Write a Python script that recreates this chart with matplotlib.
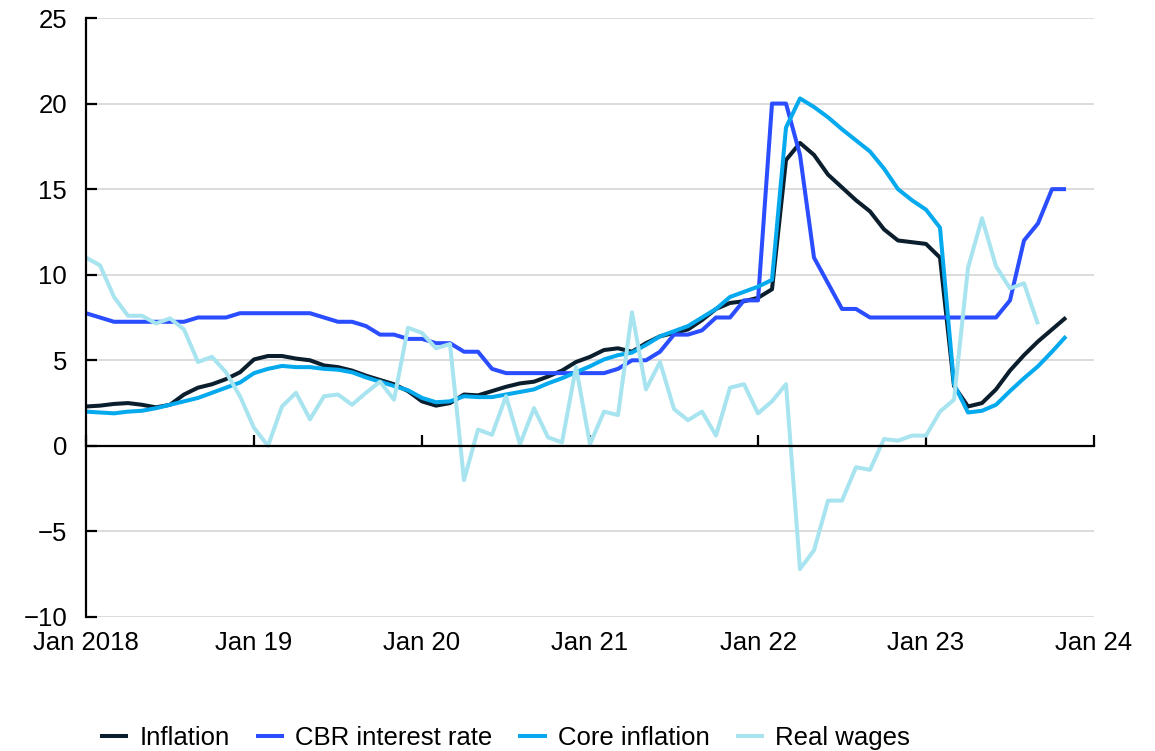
import matplotlib
matplotlib.use("Agg")
import matplotlib.pyplot as plt
import numpy as np

plt.rcParams['font.family'] = ['Liberation Sans', 'DejaVu Sans']

# Monthly data, Jan 2018 onwards (month index 0 = Jan 2018)
inflation = [2.3, 2.35, 2.45, 2.5, 2.4, 2.25, 2.4, 3.0, 3.4, 3.6, 3.9, 4.3,
             5.05, 5.25, 5.25, 5.1, 5.0, 4.7, 4.6, 4.4, 4.1, 3.85, 3.6, 3.2,
             2.6, 2.35, 2.5, 3.0, 2.95, 3.2, 3.45, 3.65, 3.75, 4.05, 4.4, 4.9,
             5.2, 5.6, 5.7, 5.5, 6.0, 6.4, 6.6, 6.8, 7.35, 8.0, 8.35, 8.45,
             8.65, 9.15, 16.7, 17.7, 17.0, 15.85, 15.1, 14.35, 13.7, 12.65,
             12.0, 11.9, 11.8, 11.0, 3.5, 2.3, 2.5, 3.3, 4.4, 5.3, 6.1, 6.8, 7.5]

cbr_rate = [7.75, 7.5, 7.25, 7.25, 7.25, 7.25, 7.25, 7.25, 7.5, 7.5, 7.5, 7.75,
            7.75, 7.75, 7.75, 7.75, 7.75, 7.5, 7.25, 7.25, 7.0, 6.5, 6.5, 6.25,
            6.25, 6.0, 6.0, 5.5, 5.5, 4.5, 4.25, 4.25, 4.25, 4.25, 4.25, 4.25,
            4.25, 4.25, 4.5, 5.0, 5.0, 5.5, 6.5, 6.5, 6.75, 7.5, 7.5, 8.5,
            8.5, 20.0, 20.0, 17.0, 11.0, 9.5, 8.0, 8.0, 7.5, 7.5,
            7.5, 7.5, 7.5, 7.5, 7.5, 7.5, 7.5, 7.5, 8.5, 12.0, 13.0, 15.0, 15.0]

core_inflation = [2.0, 1.95, 1.9, 2.0, 2.05, 2.2, 2.4, 2.6, 2.8, 3.1, 3.4, 3.7,
                  4.25, 4.5, 4.67, 4.6, 4.6, 4.5, 4.45, 4.3, 4.0, 3.75, 3.5, 3.25,
                  2.8, 2.55, 2.6, 2.9, 2.85, 2.85, 3.0, 3.15, 3.3, 3.65, 3.95, 4.3,
                  4.65, 5.05, 5.3, 5.45, 5.9, 6.4, 6.7, 7.0, 7.5, 8.0, 8.7, 9.0,
                  9.3, 9.7, 18.6, 20.3, 19.8, 19.2, 18.5, 17.85, 17.2, 16.2,
                  15.0, 14.35, 13.8, 12.75, 3.6, 1.95, 2.05, 2.4, 3.2, 3.95, 4.65, 5.5, 6.4]

real_wages = [11.0, 10.55, 8.7, 7.6, 7.6, 7.15, 7.45, 6.8, 4.9, 5.2, 4.3, 2.9,
              1.05, 0.0, 2.3, 3.1, 1.55, 2.9, 3.0, 2.4, 3.1, 3.75, 2.7, 6.9,
              6.6, 5.7, 5.95, -2.0, 0.95, 0.65, 2.9, 0.1, 2.2, 0.5, 0.2, 4.6,
              0.1, 2.0, 1.8, 7.8, 3.3, 4.9, 2.15, 1.5, 2.0, 0.6, 3.4, 3.6,
              1.9, 2.6, 3.6, -7.2, -6.1, -3.2, -3.2, -1.25, -1.4, 0.4,
              0.3, 0.6, 0.6, 2.0, 2.7, 10.4, 13.3, 10.5, 9.2, 9.5, 7.1]

tick_months = [0, 12, 24, 36, 48, 60, 72]
tick_labels = ['Jan 2018', 'Jan 19', 'Jan 20', 'Jan 21', 'Jan 22', 'Jan 23', 'Jan 24']

series = [
    ('Inflation', inflation, '#0b1e2d'),
    ('CBR interest rate', cbr_rate, '#2a4dff'),
    ('Core inflation', core_inflation, '#05a9ee'),
    ('Real wages', real_wages, '#a7e4ef'),
]

FS = 18.5

fig = plt.figure(figsize=(11.55, 7.51), dpi=100)
ax = fig.add_axes([86 / 1155, 1 - 617 / 751, (1094 - 86) / 1155, (617 - 18) / 751])

for label, values, color in series:
    ax.plot(np.arange(len(values)), values, color=color, lw=2.9, label=label,
            solid_joinstyle='round', solid_capstyle='butt')

ax.set_xlim(0, 72)
ax.set_ylim(-10, 25)
ax.set_yticks(range(-10, 30, 5))
ax.set_yticklabels(['\u221210', '\u22125', '0', '5', '10', '15', '20', '25'])
ax.grid(axis='y', color='#d9d9d9', lw=1.3)
ax.set_axisbelow(True)

for s in ['top', 'right']:
    ax.spines[s].set_visible(False)
ax.spines['left'].set_linewidth(1.6)
ax.spines['bottom'].set_position(('data', 0))
ax.spines['bottom'].set_linewidth(1.6)
ax.spines['bottom'].set_zorder(3)

ax.set_xticks(tick_months)
ax.tick_params(axis='x', direction='in', length=8, width=1.6, labelbottom=False)
ax.tick_params(axis='y', direction='in', length=8, width=1.6, pad=13.5,
               labelsize=FS, colors='black')

sec = ax.secondary_xaxis('bottom')
sec.set_xticks(tick_months)
sec.set_xticklabels(tick_labels)
sec.tick_params(length=0, pad=10, labelsize=FS)
sec.spines['bottom'].set_visible(False)

fig.legend(loc='center', bbox_to_anchor=(505 / 1155, 1 - 738 / 751), ncol=4,
           frameon=False, fontsize=FS, handlelength=1.1, handletextpad=0.45,
           columnspacing=1.0)

fig.savefig('out.png', dpi=100)
